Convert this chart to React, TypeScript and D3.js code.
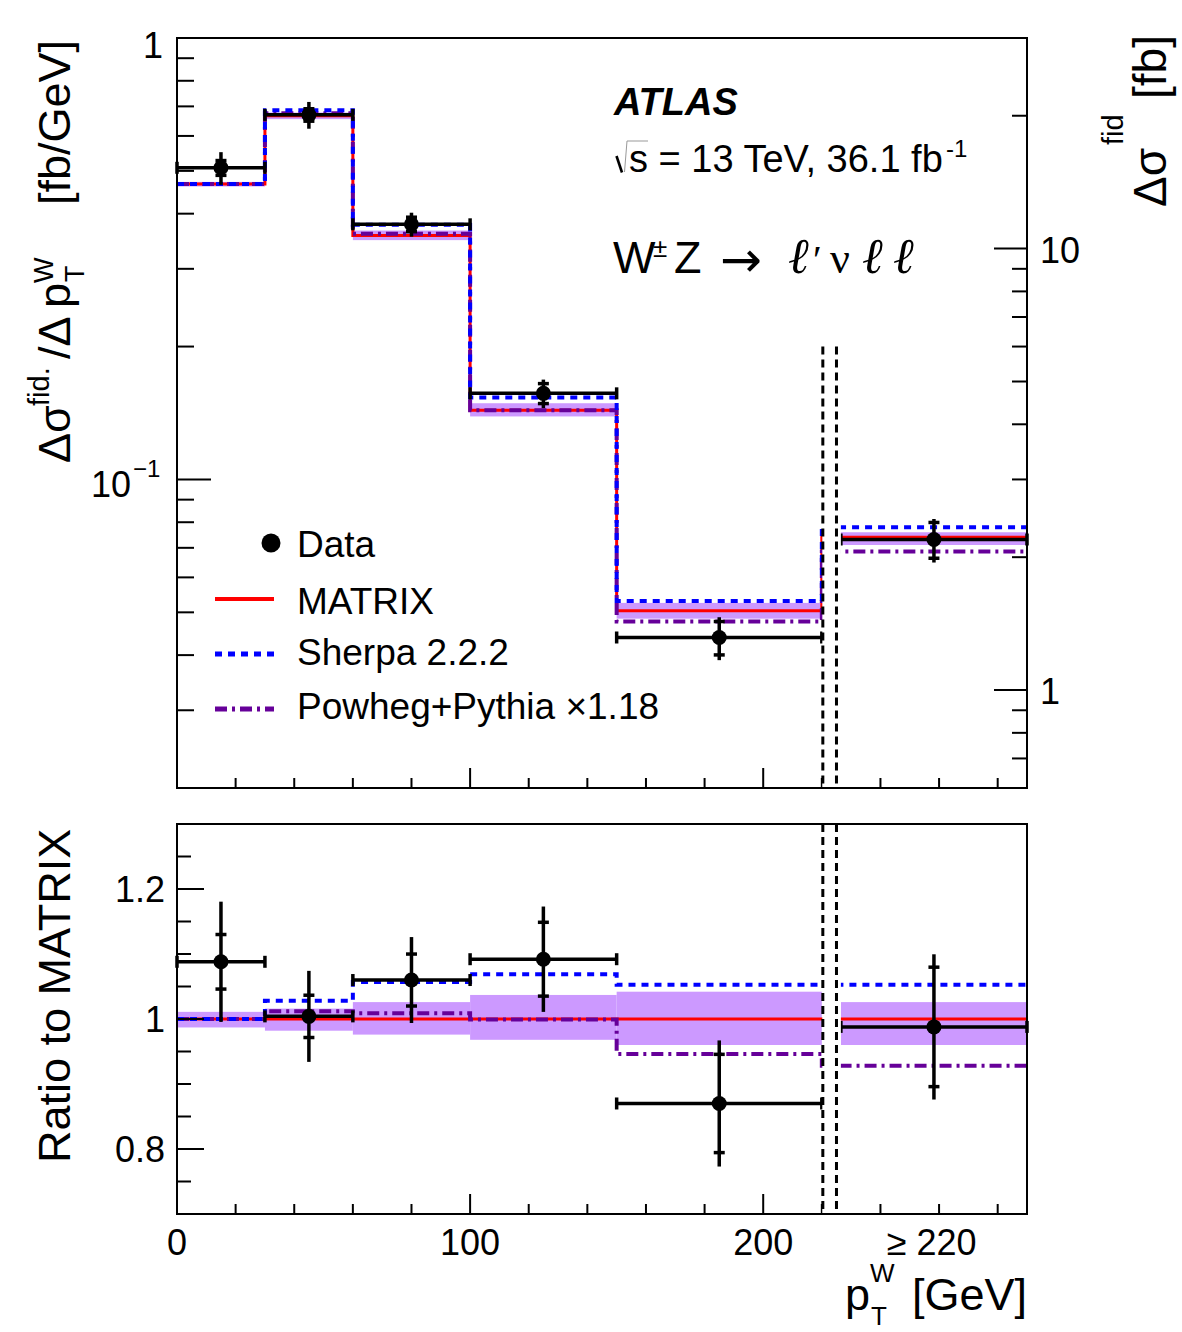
import React from 'react';
import * as d3 from 'd3';

// Bin layout in p_T^W [GeV]; the last bin is the overflow (>= 220 GeV)
const binLow = [0, 30, 60, 100, 150, 226.5];
const binHigh = [30, 60, 100, 150, 220, 290];
const binCentre = [15, 45, 80, 125, 185, 258.25];

// Cross sections: fb/GeV for the first five bins, fb for the overflow bin
const matrixXsec = [0.467, 0.667, 0.357, 0.1435, 0.0504, 2.22];
const matrixUncUp = [0.011, 0.016, 0.026, 0.037, 0.042, 0.026];
const matrixUncDown = [0.013, 0.018, 0.024, 0.032, 0.04, 0.04];
const sherpaXsec = [0.467, 0.6857, 0.3773, 0.1534, 0.05305, 2.337];
const powhegXsec = [0.467, 0.675, 0.3602, 0.1434, 0.04768, 2.06];
const dataXsec = [0.5081, 0.6697, 0.3784, 0.1567, 0.04385, 2.193];
const dataErrTotal = [0.0432, 0.0467, 0.0236, 0.01163, 0.00489, 0.248];
const dataErrStat = [0.0196, 0.0217, 0.01427, 0.00815, 0.00381, 0.204];

const xTickLabels = [
  { v: 0, t: '0' },
  { v: 100, t: '100' },
  { v: 200, t: '200' },
  { v: 257.5, t: '\u2265 220' },
];
const ratioTickLabels = [0.8, 1, 1.2];

const SANS = "'Liberation Sans', Arial, Helvetica, sans-serif";
const SERIF = "'Liberation Serif', 'DejaVu Serif', 'Times New Roman', serif";

const RED = '#ff0000';
const BLUE = '#0000ff';
const PURPLE = '#660099';
const BAND = '#cc99ff';

const BLUE_DASH = '7,6';
const PURPLE_DASH = '12,5,3,5';
const GAP_DASH = '8,5';

export default function App() {
  const W = 1182;
  const H = 1332;

  const top = { t: 38, b: 788 };
  const rat = { t: 824, b: 1214 };
  const left = 177;
  const right = 1027;

  const x = d3.scaleLinear().domain([0, 290]).range([left, right]);
  const yL = d3.scaleLog().domain([0.02, 1]).range([top.b, top.t]);
  const yR = d3.scaleLog().domain([0.6, 30]).range([top.b, top.t]);
  const yRat = d3.scaleLinear().domain([0.7, 1.3]).range([rat.b, rat.t]);

  const n = binLow.length;
  const last = n - 1;
  const yUp = (i: number, v: number) => (i === last ? yR(v) : yL(v));

  const line = d3.line<[number, number]>().curve(d3.curveStepAfter);

  const stepPath = (ys: number[]) => {
    const pts: [number, number][] = [];
    for (let i = 0; i < last; i++) pts.push([x(binLow[i]), ys[i]]);
    pts.push([x(binHigh[last - 1]), ys[last]]);
    pts.push([x(binHigh[last]), ys[last]]);
    return line(pts) || '';
  };

  const upperSeries = (vals: number[]) => stepPath(vals.map((v, i) => yUp(i, v)));
  const ratioSeries = (vals: number[]) =>
    stepPath(vals.map((v, i) => yRat(v / matrixXsec[i])));

  const gapX0 = x(220) + 0.5;
  const gapX1 = x(binLow[last]);
  const dashA = x(220) + 1;
  const dashB = x(225);

  // Tick definitions
  const xMinor = d3.range(0, 290, 20);
  const xMajor = [0, 100, 200];
  const leftLogTicks = [
    ...d3.range(2, 10).map((d) => d / 100),
    ...d3.range(1, 10).map((d) => d / 10),
    1,
  ];
  const rightLogTicks = [0.6, 0.7, 0.8, 0.9, ...d3.range(1, 10), 10, 20, 30];
  const ratioTicks = d3.range(14, 27).map((d) => d / 20);

  const isMajorLog = (v: number) =>
    Math.abs(Math.log10(v) - Math.round(Math.log10(v))) < 1e-6;

  const dataMarks = (
    yFn: (i: number, v: number) => number,
    scaleVal: (i: number, v: number) => number
  ) =>
    dataXsec.map((v, i) => {
      const cy = yFn(i, scaleVal(i, v));
      const cx = x(binCentre[i]);
      const x0 = x(binLow[i]);
      const x1 = x(binHigh[i]);
      const yTotHi = yFn(i, scaleVal(i, v + dataErrTotal[i]));
      const yTotLo = yFn(i, scaleVal(i, v - dataErrTotal[i]));
      const yStHi = yFn(i, scaleVal(i, v + dataErrStat[i]));
      const yStLo = yFn(i, scaleVal(i, v - dataErrStat[i]));
      return (
        <g key={i} stroke="#000" strokeWidth={3.5} fill="none">
          <line x1={x0} x2={x1} y1={cy} y2={cy} />
          <line x1={x0} x2={x0} y1={cy - 6} y2={cy + 6} />
          <line x1={x1} x2={x1} y1={cy - 6} y2={cy + 6} />
          <line x1={cx} x2={cx} y1={yTotHi} y2={yTotLo} />
          <line x1={cx - 5.5} x2={cx + 5.5} y1={yStHi} y2={yStHi} />
          <line x1={cx - 5.5} x2={cx + 5.5} y1={yStLo} y2={yStLo} />
          <circle cx={cx} cy={cy} r={7.5} fill="#000" stroke="none" />
        </g>
      );
    });

  const xTicks = (yBase: number) => (
    <g stroke="#000" strokeWidth={2}>
      {xMinor.map((v) => {
        const len = xMajor.includes(v) ? 20 : 10;
        return <line key={v} x1={x(v)} x2={x(v)} y1={yBase} y2={yBase - len} />;
      })}
    </g>
  );

  const upperBand = matrixXsec.map((v, i) => {
    const y0 = yUp(i, v * (1 + matrixUncUp[i]));
    const y1 = yUp(i, v * (1 - matrixUncDown[i]));
    return (
      <rect
        key={i}
        x={x(binLow[i])}
        width={x(binHigh[i]) - x(binLow[i])}
        y={y0}
        height={y1 - y0}
        fill={BAND}
      />
    );
  });
  const ratioBand = matrixXsec.map((v, i) => {
    const y0 = yRat(1 + matrixUncUp[i]);
    const y1 = yRat(1 - matrixUncDown[i]);
    return (
      <rect
        key={i}
        x={x(binLow[i])}
        width={x(binHigh[i]) - x(binLow[i])}
        y={y0}
        height={y1 - y0}
        fill={BAND}
      />
    );
  });

  const tickFont = 36;

  return (
    <svg
      width={W}
      height={H}
      viewBox={`0 0 ${W} ${H}`}
      style={{ position: 'absolute', left: 0, top: 0, background: '#fff' }}
      fontFamily={SANS}
    >
      <rect x={0} y={0} width={W} height={H} fill="#fff" />

      {/* ---------- Upper panel ---------- */}
      <g>
        {upperBand}
        <path d={upperSeries(matrixXsec)} fill="none" stroke={RED} strokeWidth={3} />
        <path
          d={upperSeries(powhegXsec)}
          fill="none"
          stroke={PURPLE}
          strokeWidth={4}
          strokeDasharray={PURPLE_DASH}
        />
        <path
          d={upperSeries(sherpaXsec)}
          fill="none"
          stroke={BLUE}
          strokeWidth={4}
          strokeDasharray={BLUE_DASH}
        />
        {dataMarks(yUp, (_i, v) => v)}
        {xTicks(top.b)}
        {/* left and right axis ticks */}
        <g stroke="#000" strokeWidth={2}>
          {leftLogTicks.map((v) => (
            <line
              key={v}
              x1={left}
              x2={left + (isMajorLog(v) ? 34 : 17)}
              y1={yL(v)}
              y2={yL(v)}
            />
          ))}
          {rightLogTicks.map((v) => (
            <line
              key={'r' + v}
              x1={right}
              x2={right - (isMajorLog(v) ? 33 : 15)}
              y1={yR(v)}
              y2={yR(v)}
            />
          ))}
        </g>
        <rect x={gapX0} width={gapX1 - gapX0} y={top.t + 2} height={top.b - top.t - 2} fill="#fff" />
        <g stroke="#000" strokeWidth={3} strokeDasharray={GAP_DASH}>
          <line x1={dashA} x2={dashA} y1={yL(0.2)} y2={top.b} />
          <line x1={dashB} x2={dashB} y1={yL(0.2)} y2={top.b} />
        </g>
        <rect
          x={left}
          y={top.t}
          width={right - left}
          height={top.b - top.t}
          fill="none"
          stroke="#000"
          strokeWidth={2}
        />

        {/* left tick labels */}
        <text x={163} y={yL(1) + 20} fontSize={tickFont} textAnchor="end">1</text>
        <text x={131} y={yL(0.1) + 18} fontSize={tickFont} textAnchor="end">10</text>
        <text x={133} y={yL(0.1) - 2} fontSize={24}>{'\u22121'}</text>
        {/* right tick labels */}
        <text x={1040} y={yR(10) + 14} fontSize={tickFont}>10</text>
        <text x={1040} y={yR(1) + 14} fontSize={tickFont}>1</text>

        {/* left axis title */}
        <g transform="translate(70,463) rotate(-90)" fontSize={45}>
          <text x={0} y={0}>{'\u0394\u03c3'}</text>
          <text x={57} y={-21} fontSize={29}>fid.</text>
          <text x={104} y={0}>{'/\u0394'}</text>
          <text x={155} y={0}>p</text>
          <text x={181} y={14} fontSize={27}>T</text>
          <text x={180} y={-17} fontSize={27}>W</text>
          <text x={258} y={0}>[fb/GeV]</text>
        </g>
        {/* right axis title */}
        <g transform="translate(1166,207) rotate(-90)" fontSize={46}>
          <text x={0} y={0}>{'\u0394\u03c3'}</text>
          <text x={62} y={-43} fontSize={29}>fid</text>
          <text x={108} y={0}>[fb]</text>
        </g>

        {/* labels */}
        <text x={614} y={115} fontSize={38} fontWeight="bold" fontStyle="italic">ATLAS</text>
        <path d="M616.5,156 L622,172.5" stroke="#000" strokeWidth={2.6} fill="none" />
        <path d="M624.5,172 L627,141 H648" stroke="#999" strokeWidth={1} fill="none" />
        <text x={629} y={172} fontSize={38}>s = 13 TeV, 36.1 fb</text>
        <text x={946} y={157} fontSize={24}>-1</text>

        <text x={613} y={273} fontSize={45}>W</text>
        <text x={653} y={257} fontSize={26}>{'\u00b1'}</text>
        <text x={674} y={273} fontSize={45}>Z</text>
        <text x={720} y={277} fontSize={50} fontFamily="'DejaVu Sans', sans-serif">
          {'\u2192'}
        </text>
        <g fontFamily={SERIF} fontStyle="italic" fontSize={50}>
          <text x={788} y={273}>{'\u2113'}</text>
          <text x={813} y={273} fontStyle="normal" fontSize={40}>{'\u2032'}</text>
          <text x={830} y={273} fontStyle="normal" fontSize={44}>{'\u03bd'}</text>
          <text x={862} y={273}>{'\u2113'}</text>
          <text x={893} y={273}>{'\u2113'}</text>
        </g>

        {/* legend */}
        <circle cx={271} cy={543} r={9.5} fill="#000" />
        <text x={297} y={557} fontSize={37}>Data</text>
        <line x1={215} x2={274} y1={599} y2={599} stroke={RED} strokeWidth={4} />
        <text x={297} y={614} fontSize={37}>MATRIX</text>
        <line
          x1={215}
          x2={274}
          y1={654}
          y2={654}
          stroke={BLUE}
          strokeWidth={5}
          strokeDasharray={BLUE_DASH}
        />
        <text x={297} y={665} fontSize={37}>Sherpa 2.2.2</text>
        <line
          x1={215}
          x2={274}
          y1={709}
          y2={709}
          stroke={PURPLE}
          strokeWidth={5}
          strokeDasharray={PURPLE_DASH}
        />
        <text x={297} y={719} fontSize={37}>{'Powheg+Pythia \u00d71.18'}</text>
      </g>

      {/* ---------- Ratio panel ---------- */}
      <g>
        {ratioBand}
        <path d={ratioSeries(matrixXsec)} fill="none" stroke={RED} strokeWidth={3} />
        <path
          d={ratioSeries(powhegXsec)}
          fill="none"
          stroke={PURPLE}
          strokeWidth={4}
          strokeDasharray={PURPLE_DASH}
        />
        <path
          d={ratioSeries(sherpaXsec)}
          fill="none"
          stroke={BLUE}
          strokeWidth={4}
          strokeDasharray={BLUE_DASH}
        />
        {dataMarks((_i, v) => yRat(v), (i, v) => v / matrixXsec[i])}
        {xTicks(rat.b)}
        <g stroke="#000" strokeWidth={2}>
          {ratioTicks.map((v) => {
            const major = ratioTickLabels.some((m) => Math.abs(m - v) < 1e-6);
            return (
              <line key={v} x1={left} x2={left + (major ? 27 : 14)} y1={yRat(v)} y2={yRat(v)} />
            );
          })}
        </g>
        <rect x={gapX0} width={gapX1 - gapX0} y={rat.t + 1} height={rat.b - rat.t - 1} fill="#fff" />
        <g stroke="#000" strokeWidth={3} strokeDasharray={GAP_DASH}>
          <line x1={dashA} x2={dashA} y1={rat.t} y2={rat.b} />
          <line x1={dashB} x2={dashB} y1={rat.t} y2={rat.b} />
        </g>
        <rect
          x={left}
          y={rat.t}
          width={right - left}
          height={rat.b - rat.t}
          fill="none"
          stroke="#000"
          strokeWidth={2}
        />

        {ratioTickLabels.map((v) => (
          <text key={v} x={165} y={yRat(v) + 13} fontSize={tickFont} textAnchor="end">
            {v === 1 ? '1' : v.toFixed(1)}
          </text>
        ))}
        {xTickLabels.map((d) => (
          <text key={d.t} x={x(d.v)} y={1255} fontSize={tickFont} textAnchor="middle">
            {d.t}
          </text>
        ))}

        <text transform="translate(70,1163) rotate(-90)" fontSize={45}>Ratio to MATRIX</text>

        {/* x axis title */}
        <text x={845} y={1310} fontSize={45}>p</text>
        <text x={871} y={1325} fontSize={26}>T</text>
        <text x={870} y={1282} fontSize={26}>W</text>
        <text x={1027} y={1310} fontSize={45} textAnchor="end">[GeV]</text>
      </g>
    </svg>
  );
}
